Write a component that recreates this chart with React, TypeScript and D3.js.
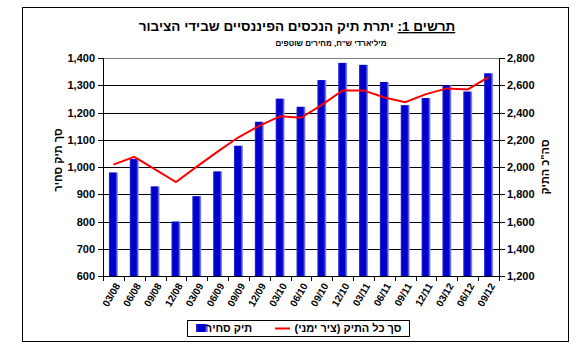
import React from 'react';
import * as d3 from 'd3';

const quarters = ['03/08', '06/08', '09/08', '12/08', '03/09', '06/09', '09/09', '12/09', '03/10', '06/10', '09/10', '12/10', '03/11', '06/11', '09/11', '12/11', '03/12', '06/12', '09/12'];
const tradable = [980, 1029, 929, 800, 893, 984, 1078, 1166, 1251, 1221, 1319, 1382, 1375, 1312, 1227, 1253, 1300, 1277, 1344];
const totalPortfolio = [2017, 2074, 1983, 1890, 2003, 2113, 2218, 2302, 2373, 2361, 2456, 2562, 2562, 2510, 2476, 2535, 2577, 2569, 2660];
const leftTicks = [600, 700, 800, 900, 1000, 1100, 1200, 1300, 1400];
const rightTicks = [1200, 1400, 1600, 1800, 2000, 2200, 2400, 2600, 2800];

const W = 581;
const H = 351;
const plot = { left: 103, right: 499, top: 58, bottom: 276 };
const font = '"Liberation Sans", Arial, sans-serif';
const fmt = d3.format(',');

const App = () => {
  const x = d3.scaleBand().domain(quarters).range([plot.left, plot.right]);
  const yL = d3.scaleLinear().domain([600, 1400]).range([plot.bottom, plot.top]);
  const yR = d3.scaleLinear().domain([1200, 2800]).range([plot.bottom, plot.top]);
  const barW = 9;
  const cx = (q: string) => (x(q) as number) + x.bandwidth() / 2;

  const line = d3.line<number>()
    .x((_, i) => cx(quarters[i]))
    .y((d) => yR(d));

  return (
    <svg width={W} height={H} style={{ position: 'absolute', left: 0, top: 0, background: '#fff' }} fontFamily={font}>
      <defs>
        <linearGradient id="barGrad" x1="0" x2="1" y1="0" y2="0">
          <stop offset="0%" stopColor="#3434d8" />
          <stop offset="18%" stopColor="#0000cc" />
          <stop offset="72%" stopColor="#0000cc" />
          <stop offset="100%" stopColor="#aaaaee" />
        </linearGradient>
      </defs>

      <rect x={22.5} y={7.5} width={546} height={334} fill="#fff" stroke="#000" strokeWidth={1} />

      {/* title */}
      <text x={297} y={31} textAnchor="middle" direction="rtl" fontSize={13.5} fontWeight="bold">
        <tspan textDecoration="underline">תרשים 1:</tspan> יתרת תיק הנכסים הפיננסיים שבידי הציבור
      </text>
      <text x={331} y={46} textAnchor="middle" direction="rtl" fontSize={8} fontWeight="bold">
        מיליארדי ש"ח, מחירים שוטפים
      </text>

      {/* gridlines */}
      {leftTicks.map((t) => (
        <line key={t} x1={plot.left} x2={plot.right} y1={Math.round(yL(t)) + 0.5} y2={Math.round(yL(t)) + 0.5}
          stroke={t === 1400 ? '#808080' : '#000'} strokeWidth={1} />
      ))}

      {/* bars */}
      {quarters.map((q, i) => (
        <rect key={q} x={cx(q) - barW / 2} y={yL(tradable[i])} width={barW} height={plot.bottom - yL(tradable[i])} fill="url(#barGrad)" />
      ))}

      {/* total portfolio line */}
      <path d={line(totalPortfolio) as string} fill="none" stroke="#ff0000" strokeWidth={2} />

      {/* axes */}
      <line x1={plot.left + 0.5} x2={plot.left + 0.5} y1={plot.top} y2={plot.bottom} stroke="#000" />
      <line x1={plot.right + 0.5} x2={plot.right + 0.5} y1={plot.top} y2={plot.bottom} stroke="#000" />
      <line x1={plot.left} x2={plot.right + 1} y1={plot.bottom + 0.5} y2={plot.bottom + 0.5} stroke="#000" />

      {leftTicks.map((t) => (
        <g key={t} transform={`translate(0,${Math.round(yL(t)) + 0.5})`}>
          <line x1={plot.left - 5} x2={plot.left} stroke="#000" />
          <text x={95} dy="0.35em" textAnchor="end" fontSize={11} fontWeight="bold">{fmt(t)}</text>
        </g>
      ))}
      {rightTicks.map((t) => (
        <g key={t} transform={`translate(0,${Math.round(yR(t)) + 0.5})`}>
          <line x1={plot.right} x2={plot.right + 6} stroke="#000" />
          <text x={507} dy="0.35em" textAnchor="start" fontSize={11} fontWeight="bold">{fmt(t)}</text>
        </g>
      ))}

      {/* x ticks at category boundaries */}
      {quarters.concat(['']).map((q, i) => {
        const bx = Math.round(plot.left + i * x.bandwidth()) + 0.5;
        return <line key={i} x1={bx} x2={bx} y1={plot.bottom} y2={plot.bottom + 5} stroke="#000" />;
      })}
      {quarters.map((q) => (
        <text key={q} transform={`translate(${cx(q) + 4},284) rotate(-60)`} textAnchor="end" dy="0.35em" fontSize={10} fontWeight="bold">{q}</text>
      ))}

      {/* axis titles */}
      <text transform="translate(58,160) rotate(-90)" textAnchor="middle" direction="rtl" dy="0.35em" fontSize={11} fontWeight="bold">סך תיק סחיר</text>
      <text transform="translate(545,167) rotate(-90)" textAnchor="middle" direction="rtl" dy="0.35em" fontSize={11} fontWeight="bold">סה"כ התיק</text>

      {/* legend */}
      <rect x={187.5} y={320.5} width={222} height={16} fill="#fff" stroke="#000" />
      <rect x={196} y={324} width={12} height={8} fill="url(#barGrad)" />
      <text x={229} y={332} textAnchor="middle" direction="rtl" fontSize={11} fontWeight="bold">תיק סחיר</text>
      <line x1={275} x2={290} y1={328.5} y2={328.5} stroke="#ff0000" strokeWidth={2} />
      <text x={348} y={332} textAnchor="middle" direction="rtl" fontSize={11} fontWeight="bold">סך כל התיק (ציר ימני)</text>
    </svg>
  );
};

export default App;
